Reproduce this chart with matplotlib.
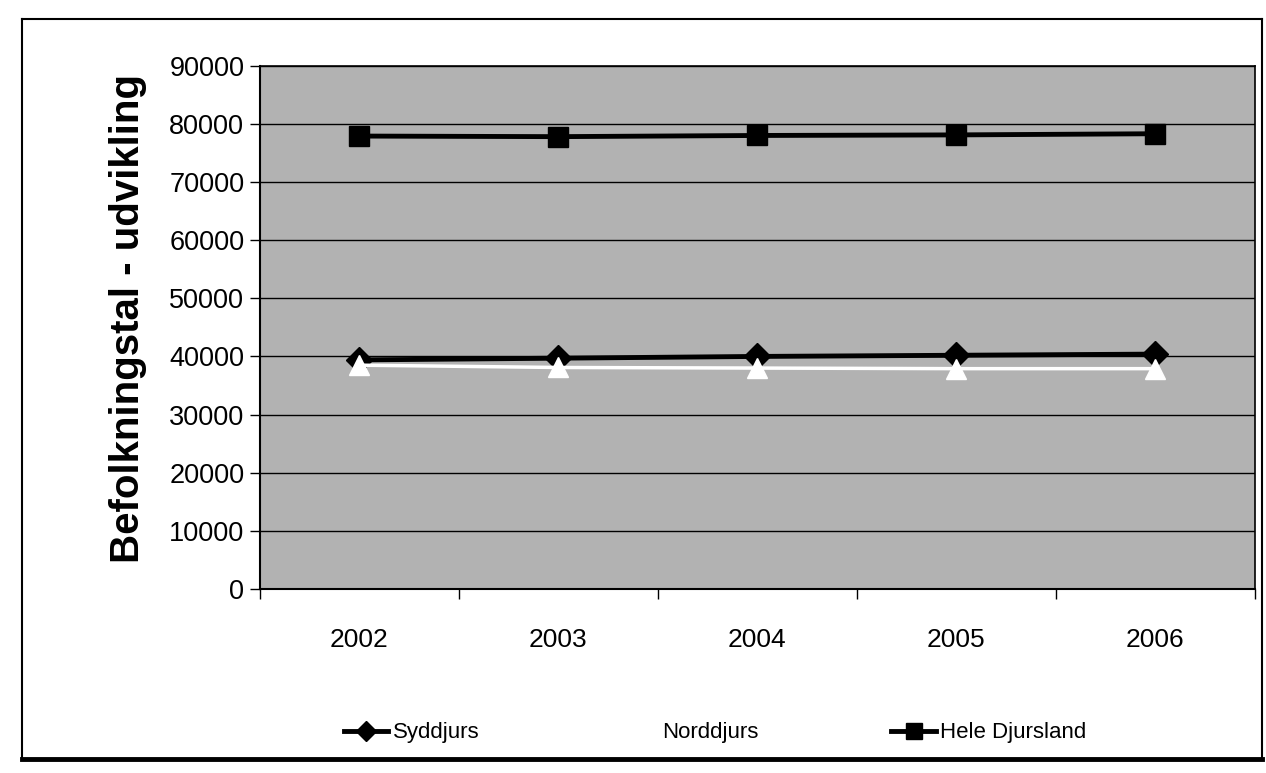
import matplotlib.pyplot as plt
from matplotlib.lines import Line2D

# population per municipality, 2002-2006
years = ["2002", "2003", "2004", "2005", "2006"]
syddjurs = [39400, 39700, 40000, 40200, 40400]
norddjurs = [38500, 38100, 38000, 37900, 37900]
hele_djursland = [77900, 77800, 78000, 78100, 78300]
y_ticks = [0, 10000, 20000, 30000, 40000, 50000, 60000, 70000, 80000, 90000]

plt.rcParams["font.family"] = ["Liberation Sans", "DejaVu Sans"]

fig = plt.figure(figsize=(12.66, 7.73), dpi=100)
ax = fig.add_axes([0.205, 0.238, 0.786, 0.677])
ax.set_facecolor("#b2b2b2")

x = range(len(years))
ax.plot(x, syddjurs, color="black", lw=3.5, marker="D", ms=13,
        mfc="black", mec="black", label="Syddjurs", zorder=3)
ax.plot(x, norddjurs, color="white", lw=2.5, marker="^", ms=15,
        mfc="white", mec="white", label="Norddjurs", zorder=4)
ax.plot(x, hele_djursland, color="black", lw=3.5, marker="s", ms=15,
        mfc="black", mec="black", label="Hele Djursland", zorder=3)

ax.set_ylim(0, 90000)
ax.set_yticks(y_ticks)
ax.set_yticklabels([str(v) for v in y_ticks])
ax.yaxis.grid(True, color="black", lw=1.0)
ax.set_axisbelow(True)

ax.set_xlim(-0.5, len(years) - 0.5)
ax.set_xticks([i + 0.5 for i in range(-1, len(years))])
ax.set_xticklabels([])
ax.set_xticks(list(x), minor=True)
ax.set_xticklabels(years, minor=True)
ax.tick_params(axis="x", which="minor", length=0, pad=28, labelsize=19)
ax.tick_params(axis="x", which="major", length=7, width=1, direction="out")
ax.tick_params(axis="y", length=7, width=1, direction="out", pad=4, labelsize=19.5)

for side in ["left", "bottom"]:
    ax.spines[side].set_linewidth(1.5)
for side in ["top", "right"]:
    ax.spines[side].set_linewidth(1.2)

fig.text(0.101, 0.588, "Befolkningstal - udvikling", rotation=90,
         fontsize=29, fontweight="bold", ha="center", va="center")

leg = fig.legend(loc="center", bbox_to_anchor=(0.565, 0.052), ncol=3,
                 frameon=False, handlelength=2.0, columnspacing=6.0,
                 handletextpad=0.2, markerscale=0.8,
                 prop={"size": 16})

# chart frame, heavier on the bottom edge
fig.add_artist(Line2D([0.017, 0.997], [0.975, 0.975], color="black", lw=1.5))
fig.add_artist(Line2D([0.017, 0.017], [0.975, 0.018], color="black", lw=1.5))
fig.add_artist(Line2D([0.017, 0.997], [0.018, 0.018], color="black", lw=3.5))
fig.add_artist(Line2D([0.997, 0.997], [0.975, 0.018], color="black", lw=1.5))

fig.savefig("out.png", dpi=100, facecolor="white")
